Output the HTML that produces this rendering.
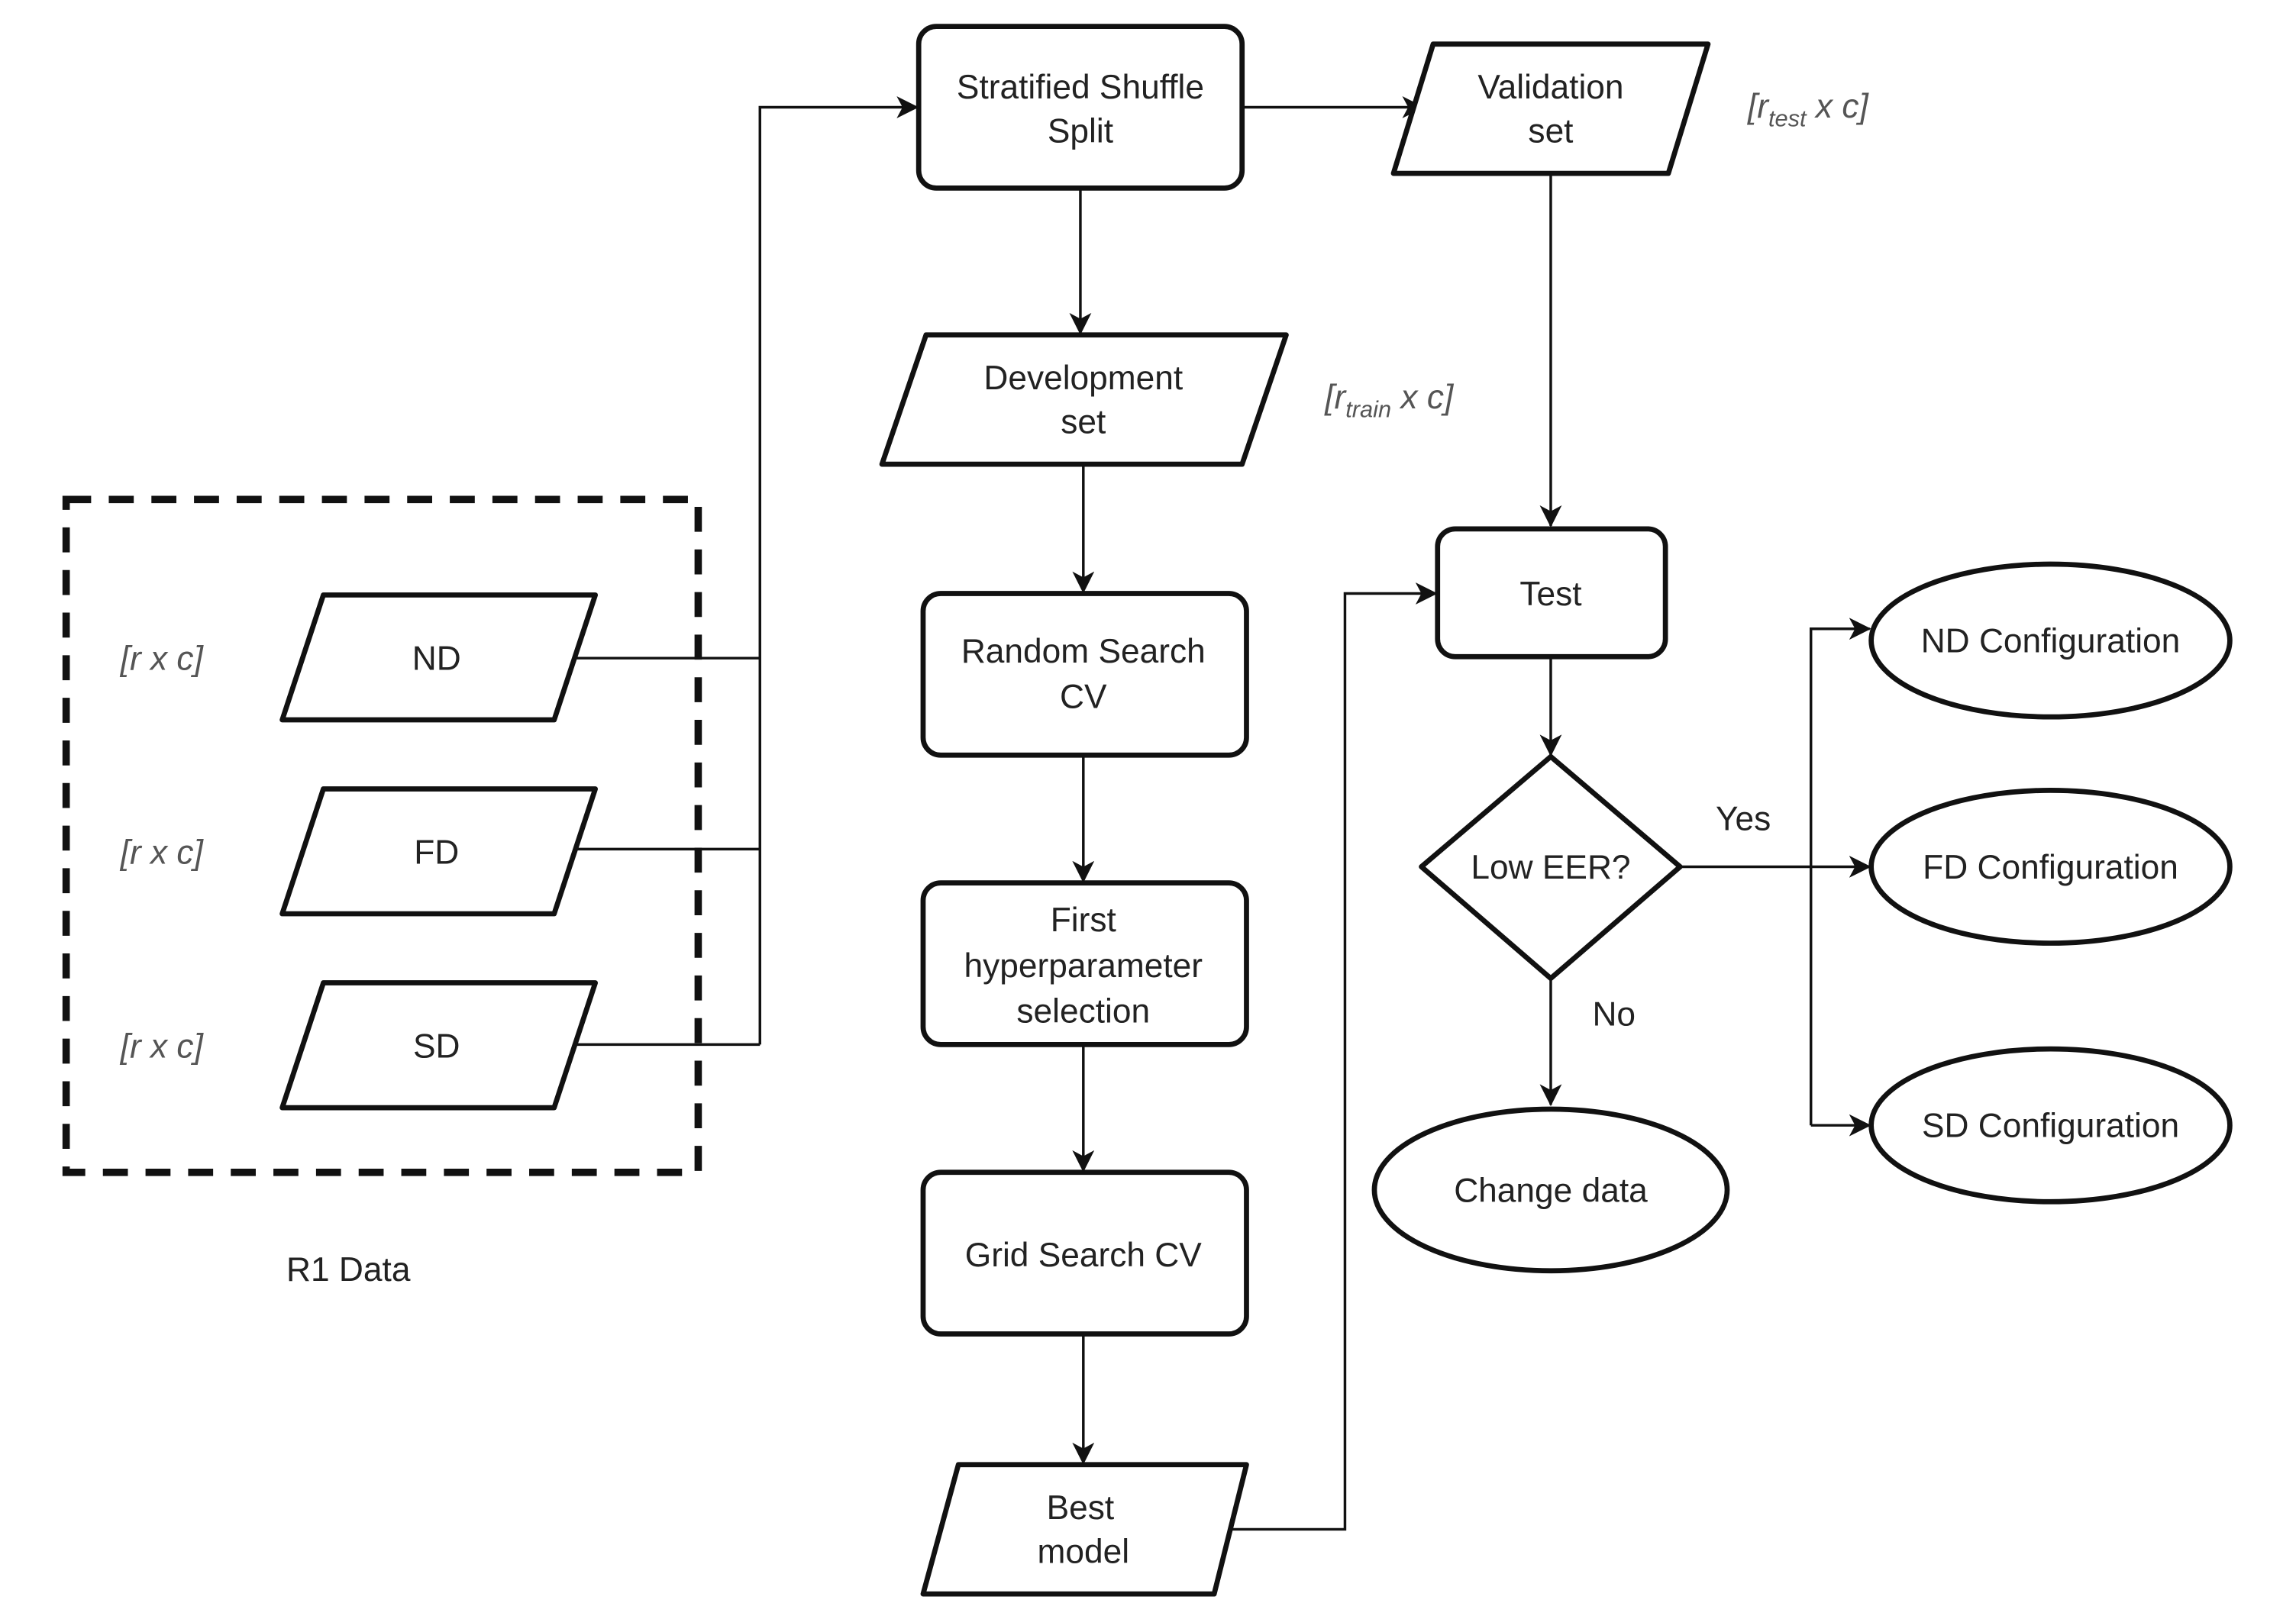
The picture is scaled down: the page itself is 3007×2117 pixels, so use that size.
<!DOCTYPE html>
<html><head><meta charset="utf-8"><style>
html,body{margin:0;padding:0;background:#fff}
svg{display:block}
text{font-family:"Liberation Sans",Arial,sans-serif;font-size:23px;fill:#222;text-anchor:middle}
.it{font-style:italic;fill:#555}
.s{fill:#fff;stroke:#111;stroke-width:3.5;stroke-linejoin:round}
.c{fill:none;stroke:#111;stroke-width:1.8}
</style></head><body>
<svg width="3007" height="2117" viewBox="0 0 1562 1100" preserveAspectRatio="none" xmlns="http://www.w3.org/2000/svg">
<defs><marker id="a" markerWidth="15" markerHeight="15" refX="14" refY="7.5" orient="auto" markerUnits="userSpaceOnUse"><path d="M0,0 L15,7.5 L0,15 L4,7.5 Z" fill="#111"/></marker></defs>
<rect x="45" y="340" width="430" height="458" fill="none" stroke="#111" stroke-width="5" stroke-dasharray="17,12"/>
<path class="c" d="M385,448 H517 M385,578 H517 M385,711 H517 M517,711 V73 H624" marker-end="url(#a)"/>
<path class="c" d="M845,73 H968" marker-end="url(#a)"/>
<path class="c" d="M735,128 V227" marker-end="url(#a)"/>
<path class="c" d="M737,316 V403" marker-end="url(#a)"/>
<path class="c" d="M737,514 V600" marker-end="url(#a)"/>
<path class="c" d="M737,711 V797" marker-end="url(#a)"/>
<path class="c" d="M737,908 V996" marker-end="url(#a)"/>
<path class="c" d="M830,1041 H915 V404 H977" marker-end="url(#a)"/>
<path class="c" d="M1055,118 V358" marker-end="url(#a)"/>
<path class="c" d="M1055,447 V514" marker-end="url(#a)"/>
<path class="c" d="M1055,666 V752" marker-end="url(#a)"/>
<path class="c" d="M1143,590 H1272" marker-end="url(#a)"/>
<path class="c" d="M1232,766 V428 H1272" marker-end="url(#a)"/>
<path class="c" d="M1232,766 H1272" marker-end="url(#a)"/>
<rect class="s" x="625" y="18" width="220" height="110" rx="12"/>
<path class="s" d="M975,30 H1162 L1135,118 H948 Z" stroke-linejoin="round"/>
<path class="s" d="M630,228 H875 L845,316 H600 Z"/>
<path class="s" d="M220,405 H405 L377,490 H192 Z"/>
<path class="s" d="M220,537 H405 L377,622 H192 Z"/>
<path class="s" d="M220,669 H405 L377,754 H192 Z"/>
<rect class="s" x="628" y="404" width="220" height="110" rx="12"/>
<rect class="s" x="628" y="601" width="220" height="110" rx="12"/>
<rect class="s" x="628" y="798" width="220" height="110" rx="12"/>
<path class="s" d="M652,997 H848 L826,1085 H628 Z"/>
<rect class="s" x="978" y="360" width="155" height="87" rx="12"/>
<path class="s" d="M1055,515 L1143,590 L1055,666 L967,590 Z"/>
<ellipse class="s" cx="1055" cy="810" rx="120" ry="55"/>
<ellipse class="s" cx="1395" cy="436" rx="122" ry="52"/>
<ellipse class="s" cx="1395" cy="590" rx="122" ry="52"/>
<ellipse class="s" cx="1395" cy="766" rx="122" ry="52"/>
<text x="735" y="67">Stratified Shuffle</text><text x="735" y="97">Split</text>
<text x="1055" y="67">Validation</text><text x="1055" y="97">set</text>
<text class="it" x="1230" y="80">[r<tspan font-size="16" dy="6">test</tspan><tspan dy="-6"> x c]</tspan></text>
<text x="737" y="265">Development</text><text x="737" y="295">set</text>
<text class="it" x="945" y="278">[r<tspan font-size="16" dy="6">train</tspan><tspan dy="-6"> x c]</tspan></text>
<text x="297" y="456">ND</text><text x="297" y="588">FD</text><text x="297" y="720">SD</text>
<text class="it" x="110" y="456">[r x c]</text><text class="it" x="110" y="588">[r x c]</text><text class="it" x="110" y="720">[r x c]</text>
<text x="237" y="872">R1 Data</text>
<text x="737" y="451">Random Search</text><text x="737" y="482">CV</text>
<text x="737" y="634">First</text><text x="737" y="665">hyperparameter</text><text x="737" y="696">selection</text>
<text x="737" y="862">Grid Search CV</text>
<text x="735" y="1034">Best</text><text x="737" y="1064">model</text>
<text x="1055" y="412">Test</text>
<text x="1055" y="598">Low EER?</text>
<text x="1186" y="565">Yes</text><text x="1098" y="698">No</text>
<text x="1055" y="818">Change data</text>
<text x="1395" y="444">ND Configuration</text>
<text x="1395" y="598">FD Configuration</text>
<text x="1395" y="774">SD Configuration</text>
</svg>
</body></html>
